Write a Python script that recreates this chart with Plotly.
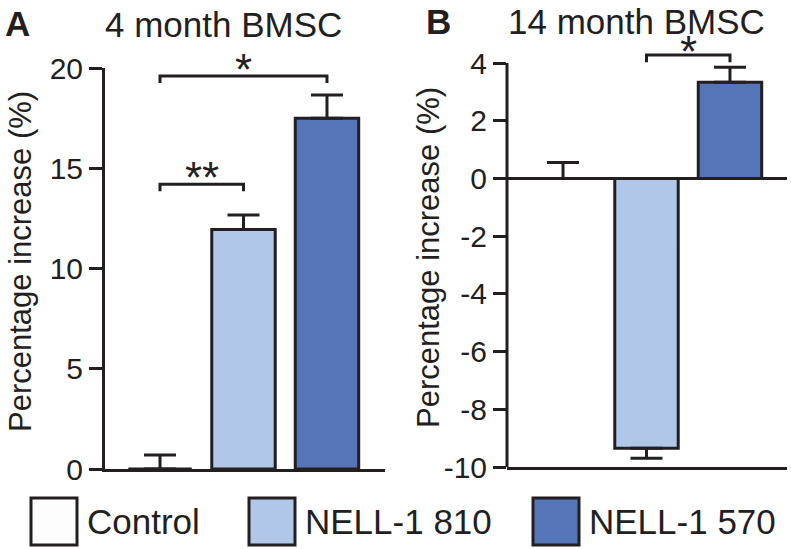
import plotly.graph_objects as go

# ---------------- data ----------------
categories = ["Control", "NELL-1 810", "NELL-1 570"]
colors = ["#fdfdfd", "#b0c7e8", "#5675b8"]

m4_mean = [0.0, 11.95, 17.5]
m4_err = [0.7, 0.72, 1.15]

m14_mean = [0.0, -9.35, 3.33]
m14_err = [0.55, 0.35, 0.52]

# significance brackets: (panel, from-index, to-index, height, tip depth, label)
sig_brackets = [
    ("A", 0, 2, 19.6, 0.35, "*"),
    ("A", 0, 1, 14.2, 0.35, "**"),
    ("B", 1, 2, 4.28, 0.25, "*"),
]

a_ticks = [0, 5, 10, 15, 20]
b_ticks = [-10, -8, -6, -4, -2, 0, 2, 4]
y_title = "Percentage increase (%)"

INK = "#231f20"
FONT = "Arial, Liberation Sans, Helvetica, sans-serif"
W, H = 791, 549

fig = go.Figure()

def add_panel(means, errs, xa, ya):
    for i, (cat, m, e, c) in enumerate(zip(categories, means, errs, colors)):
        up = e if m >= 0 else 0
        down = e if m < 0 else 0
        fig.add_trace(go.Bar(
            x=[i], y=[m], width=0.76, xaxis=xa, yaxis=ya,
            marker=dict(color=c, line=dict(color=INK, width=3)),
            error_y=dict(type="data", symmetric=False, array=[up], arrayminus=[down],
                         color=INK, thickness=3, width=16),
            showlegend=False, name=cat,
        ))

add_panel(m4_mean, m4_err, "x", "y")
add_panel(m14_mean, m14_err, "x2", "y2")

axis_common = dict(showgrid=False, ticks="outside", ticklen=13, tickwidth=3,
                   tickcolor=INK, linecolor=INK, linewidth=3, automargin=False,
                   tickfont=dict(family=FONT, size=30, color=INK))
xaxis_common = dict(showline=True, linecolor=INK, linewidth=3, showticklabels=False,
                    ticks="", showgrid=False, zeroline=False, automargin=False)

fig.update_layout(
    width=W, height=H, margin=dict(l=0, r=0, t=0, b=0, autoexpand=False),
    plot_bgcolor="white", paper_bgcolor="white", barmode="overlay",
    font=dict(family=FONT, color=INK),
    xaxis=dict(domain=[105 / W, 385 / W], range=[-0.659, 2.695], anchor="y", **xaxis_common),
    yaxis=dict(domain=[1 - 469 / H, 1 - 68 / H], range=[0, 20], tickvals=a_ticks,
               ticktext=[str(v) for v in a_ticks],
               showline=True, zeroline=False, anchor="x", **axis_common),
    xaxis2=dict(domain=[507 / W, 787 / W], range=[-0.671, 2.683], anchor="y2", **xaxis_common),
    yaxis2=dict(domain=[1 - 467 / H, 1 - 42.8 / H], range=[-10, 4.7], tickvals=b_ticks,
                ticktext=[str(v) for v in b_ticks],
                showline=False, zeroline=True, zerolinecolor=INK, zerolinewidth=3,
                anchor="x2", **axis_common),
)

# y-axis line for panel B (stops at top tick, 4)
fig.add_shape(type="line", xref="x2 domain", yref="y2", x0=0, x1=0,
              y0=b_ticks[0], y1=b_ticks[-1], line=dict(color=INK, width=3))

# y-axis titles
for tx, ty in [(20, 262), (428, 258)]:
    fig.add_annotation(x=tx / W, y=1 - ty / H, xref="paper", yref="paper", text=y_title,
                       textangle=-90, showarrow=False, xanchor="center", yanchor="middle",
                       font=dict(family=FONT, size=31, color=INK))

# significance brackets
for panel, i, j, h, d, label in sig_brackets:
    xr, yr = ("x", "y") if panel == "A" else ("x2", "y2")
    fig.add_shape(type="path", xref=xr, yref=yr,
                  path=f"M {i},{h - d} L {i},{h} L {j},{h} L {j},{h - d}",
                  line=dict(color=INK, width=3))
    fig.add_annotation(x=(i + j) / 2, y=h, xref=xr, yref=yr, text=label, showarrow=False,
                       xanchor="center", yanchor="bottom",
                       yshift=-20 if panel == "A" else -23,
                       font=dict(family=FONT, size=44, color=INK))

# panel titles and letters
title_kw = dict(xref="paper", yref="paper", showarrow=False, xanchor="center", yanchor="middle")
fig.add_annotation(x=223 / W, y=1 - 24 / H, text="4 month BMSC",
                   font=dict(family=FONT, size=35, color=INK), **title_kw)
fig.add_annotation(x=636 / W, y=1 - 21 / H, text="14 month BMSC",
                   font=dict(family=FONT, size=35, color=INK), **title_kw)
fig.add_annotation(x=17 / W, y=1 - 23 / H, text="<b>A</b>",
                   font=dict(family=FONT, size=35, color=INK), **title_kw)
fig.add_annotation(x=438 / W, y=1 - 21 / H, text="<b>B</b>",
                   font=dict(family=FONT, size=35, color=INK), **title_kw)

# legend drawn as boxes + labels
legend_x = [31, 249, 533]
for lx, cat, c in zip(legend_x, categories, colors):
    fig.add_shape(type="rect", xref="paper", yref="paper",
                  x0=lx / W, x1=(lx + 46) / W, y0=1 - 545 / H, y1=1 - 498 / H,
                  fillcolor=c, line=dict(color=INK, width=3))
    fig.add_annotation(x=(lx + 54) / W, y=1 - 521 / H, xref="paper", yref="paper", text=cat,
                       xanchor="left", yanchor="middle", showarrow=False,
                       font=dict(family=FONT, size=35, color=INK))

fig.write_html("out.html", config={"displayModeBar": False},
               post_script="document.body.style.margin='0px';")
